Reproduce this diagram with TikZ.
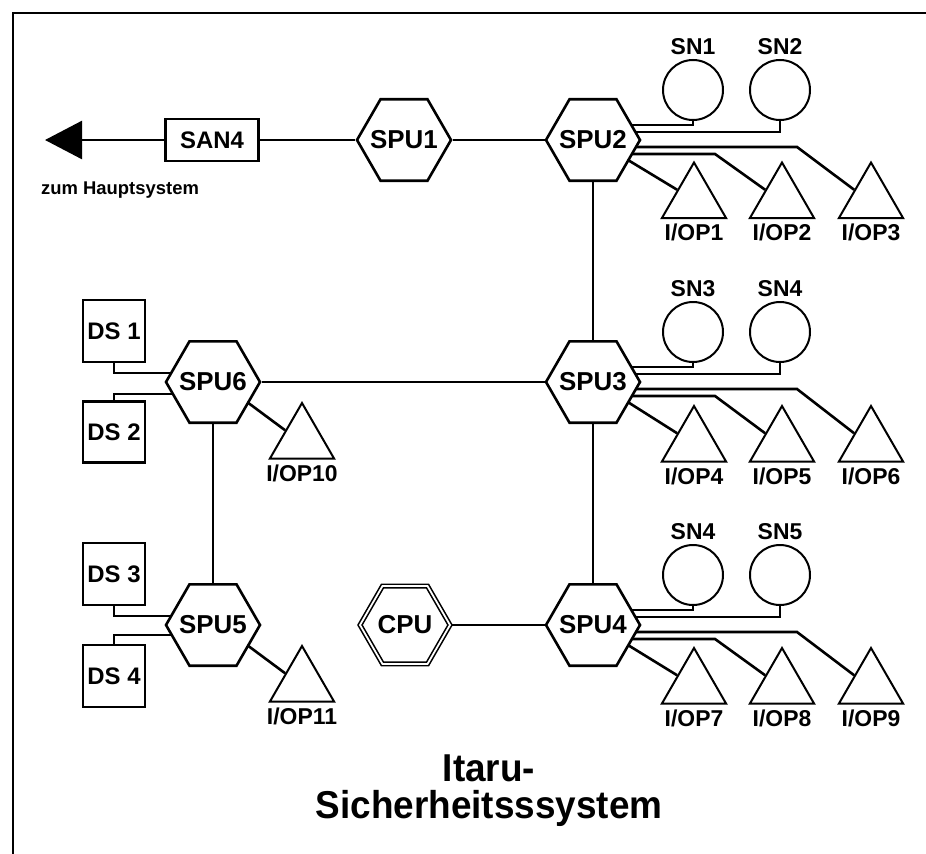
\documentclass[tikz,border=0pt]{standalone}
\usepackage{fontspec}
\setmainfont{Liberation Sans}
\newfontfamily\titlefont[FakeStretch=0.95]{Liberation Sans}
\usetikzlibrary{shapes.geometric,arrows.meta,calc}
\pgfdeclarelayer{bg}
\pgfsetlayers{bg,main}
\newcommand\spucluster[6]{%
  \draw[ln] ($(#1)+(0,-15)$) -| (#2.south);
  \draw[ln] ($(#1)+(0,-8)$) -| (#3.south);
  \draw[ln] ($(#1)+(0,7)$) -- ($(#1)+(204,7)$) -- (#6.side 1);
  \draw[ln] ($(#1)+(0,14)$) -- ($(#1)+(122,14)$) -- (#5.side 1);
  \draw[ln] ($(#1)+(30,17)$) -- (#4.side 1);
}
\begin{document}
\begin{tikzpicture}[x=1bp,y=-1bp,
  ln/.style={line width=2.6bp},
  hexlab/.style={font=\bfseries\fontsize{26}{26}\selectfont, inner sep=0pt},
  hex/.style={regular polygon, regular polygon sides=6, minimum size=94bp, inner sep=0pt,
    draw, line width=2.6bp, fill=white, label={[hexlab]center:#1}},
  cpuhex/.style={hex=#1, minimum size=90bp, line width=1.6bp, double=white, double distance=1.8bp},
  sn/.style={circle, minimum size=60bp, inner sep=0pt, draw, line width=2bp, fill=white},
  iop/.style={regular polygon, regular polygon sides=3, minimum size=74bp, inner sep=0pt,
    draw, line width=2bp, fill=white},
  lab/.style={font=\bfseries\fontsize{23}{23}\selectfont, inner sep=1bp},
  box/.style={rectangle, draw, line width=2.2bp, fill=white, inner sep=0pt,
    font=\bfseries\fontsize{24}{24}\selectfont},
  small/.style={font=\bfseries\fontsize{18.5}{18.5}\selectfont, inner sep=0pt},
  titletext/.style={font=\titlefont\bfseries\fontsize{39}{37}\selectfont, align=center, inner sep=0pt}
]
\useasboundingbox (0,0) rectangle (926,854);
% frame
\draw[line width=2.2bp] (13,854) -- (13,13) -- (926,13);

% main chain
\node[box, minimum width=93bp, minimum height=42bp] (san4) at (212,140) {SAN4};
\coordinate (zum) at (45,140);
\node[small, anchor=west] (zumtxt) at (41,190) {zum Hauptsystem};
\node[hex=SPU1] (spu1) at (404,140) {};
\node[hex=SPU2] (spu2) at (593,140) {};
\node[hex=SPU3] (spu3) at (593,382) {};
\node[hex=SPU4] (spu4) at (593,625) {};
\node[hex=SPU6] (spu6) at (213,382) {};
\node[hex=SPU5] (spu5) at (213,625) {};
\node[cpuhex=CPU] (cpu) at (405,625) {};

% storage nodes
\node[sn, label={[lab, label distance=3bp]above:SN1}] (sn1) at (693,90) {};
\node[sn, label={[lab, label distance=3bp]above:SN2}] (sn2) at (780,90) {};
\node[sn, label={[lab, label distance=3bp]above:SN3}] (sn3) at (693,332) {};
\node[sn, label={[lab, label distance=3bp]above:SN4}] (sn4) at (780,332) {};
\node[sn, label={[lab, label distance=3bp]above:SN4}] (sn4b) at (693,575) {};
\node[sn, label={[lab, label distance=3bp]above:SN5}] (sn5) at (780,575) {};

% I/O processors
\node[iop, label={[lab, label distance=4bp]below:I/OP1}] (iop1) at (694,199.5) {};
\node[iop, label={[lab, label distance=4bp]below:I/OP2}] (iop2) at (782,199.5) {};
\node[iop, label={[lab, label distance=4bp]below:I/OP3}] (iop3) at (871,199.5) {};
\node[iop, label={[lab, label distance=4bp]below:I/OP4}] (iop4) at (694,443) {};
\node[iop, label={[lab, label distance=4bp]below:I/OP5}] (iop5) at (782,443) {};
\node[iop, label={[lab, label distance=4bp]below:I/OP6}] (iop6) at (871,443) {};
\node[iop, label={[lab, label distance=4bp]below:I/OP7}] (iop7) at (694,685) {};
\node[iop, label={[lab, label distance=4bp]below:I/OP8}] (iop8) at (782,685) {};
\node[iop, label={[lab, label distance=4bp]below:I/OP9}] (iop9) at (871,685) {};
\node[iop, label={[lab, label distance=4bp]below:I/OP10}] (iop10) at (302,440) {};
\node[iop, label={[lab, label distance=4bp]below:I/OP11}] (iop11) at (302,683) {};

% disks
\node[box, minimum width=62bp, minimum height=62bp] (ds1) at (114,331) {DS 1};
\node[box, minimum width=62bp, minimum height=61bp] (ds2) at (114,432) {DS 2};
\node[box, minimum width=62bp, minimum height=62bp] (ds3) at (114,574) {DS 3};
\node[box, minimum width=62bp, minimum height=62bp] (ds4) at (114,676) {DS 4};

% title
\node[titletext] (title) at (489,791) {Itaru-\\Sicherheitsssystem};

\begin{pgfonlayer}{bg}
  \draw[ln, -{Triangle[length=37bp,width=38bp]}] (san4.west) -- (zum);
  \draw[ln] (san4) -- (spu1);
  \draw[ln] (spu1) -- (spu2);
  \draw[ln] (spu2) -- (spu3);
  \draw[ln] (spu3) -- (spu4);
  \draw[ln] (spu6) -- (spu3);
  \draw[ln] (spu6) -- (spu5);
  \draw[ln] (cpu) -- (spu4);
  \spucluster{spu2}{sn1}{sn2}{iop1}{iop2}{iop3}
  \spucluster{spu3}{sn3}{sn4}{iop4}{iop5}{iop6}
  \spucluster{spu4}{sn4b}{sn5}{iop7}{iop8}{iop9}
  \draw[ln] (ds1.south) |- ($(spu6)+(0,-9)$);
  \draw[ln] (ds2.north) |- ($(spu6)+(0,12)$);
  \draw[ln] ($(spu6)+(30,17)$) -- (iop10.side 1);
  \draw[ln] (ds3.south) |- ($(spu5)+(0,-9)$);
  \draw[ln] (ds4.north) |- ($(spu5)+(0,10)$);
  \draw[ln] ($(spu5)+(30,17)$) -- (iop11.side 1);
\end{pgfonlayer}
\end{tikzpicture}
\end{document}
